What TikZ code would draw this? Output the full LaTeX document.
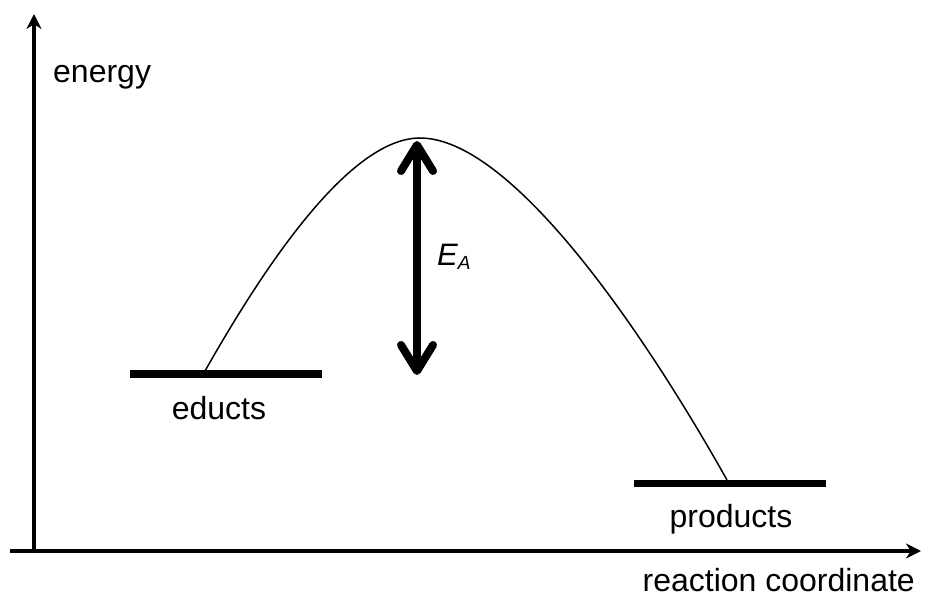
\documentclass[tikz,border=0pt]{standalone}
\usepackage{fontspec}
\setmainfont{Liberation Sans}
\usetikzlibrary{arrows.meta}
\begin{document}
\begin{tikzpicture}[x=1pt,y=-1pt,
  axis/.style={line width=3.5pt,-{Stealth[length=15pt,width=15pt]}},
  level/.style={line width=7pt},
  curve/.style={line width=1.5pt},
  barrier/.style={line width=8pt,{Straight Barb[length=26pt,width=32pt,round]}-{Straight Barb[length=26pt,width=32pt,round]}},
  lbl/.style={inner sep=0pt,font=\fontsize{32}{38}\selectfont}]
\useasboundingbox (0,0) rectangle (926,601);
% axes
\coordinate (origin) at (34,551);
\coordinate (ytop) at (34,14);
\coordinate (xleft) at (10,551);
\coordinate (xright) at (921,551);
\draw[axis] (origin) -- (ytop);
\draw[axis] (xleft) -- (xright);
% levels
\coordinate (e1) at (130,374);
\coordinate (e2) at (322,374);
\coordinate (p1) at (634,483);
\coordinate (p2) at (826,483);
\draw[level] (e1) -- (e2);
\draw[level] (p1) -- (p2);
% curve
\coordinate (cs) at (205,371);
\coordinate (peak) at (420,138);
\coordinate (ce) at (727,480);
\draw[curve] (cs) .. controls (265,265) and (350,138) .. (peak)
  .. controls (510,138) and (640,325) .. (ce);
% activation energy
\coordinate (ab) at (417,375);
\coordinate (at) at (417,141);
\draw[barrier] (ab) -- (at);
% labels
\node[lbl,anchor=base west] (energy) at (53,83) {energy};
\node[lbl,anchor=base] (educts) at (219,419) {educts};
\node[lbl,anchor=base] (products) at (731,527) {products};
\node[lbl,anchor=base east] (rc) at (915,591) {reaction coordinate};
\node[inner sep=0pt,anchor=base west,font=\fontsize{31}{36}\selectfont] (ea) at (437,266) {\itshape E\raisebox{-4pt}{\fontsize{19}{22}\selectfont A}};
\end{tikzpicture}
\end{document}
